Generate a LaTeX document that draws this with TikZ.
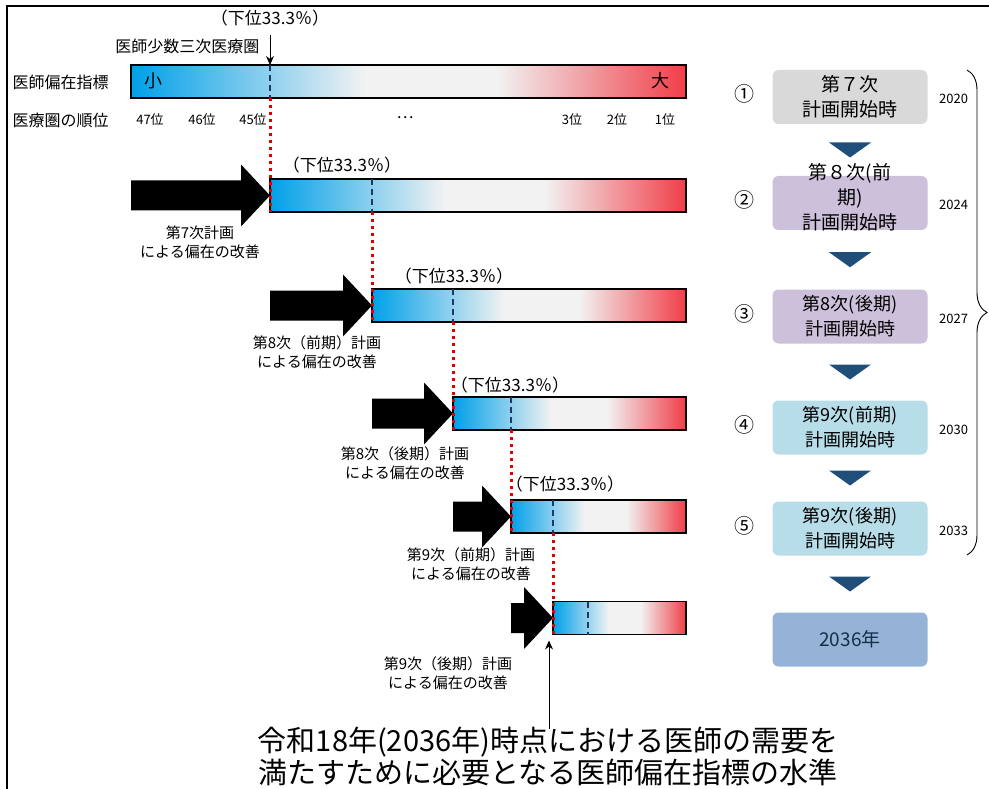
\documentclass[tikz,border=0pt]{standalone}
\usepackage{fontspec}
\setmainfont{Noto Sans CJK JP}
\usetikzlibrary{arrows.meta,calc,positioning,decorations.pathreplacing}

\definecolor{devblue}{RGB}{0,160,233}
\definecolor{devgray}{RGB}{242,242,242}
\definecolor{devred}{RGB}{240,62,72}
\definecolor{stgray}{RGB}{217,217,217}
\definecolor{stlav}{RGB}{204,192,218}
\definecolor{stcyan}{RGB}{183,221,232}
\definecolor{stblue}{RGB}{149,179,215}
\definecolor{stnavy}{RGB}{31,78,121}
\definecolor{mkline}{RGB}{31,56,100}
\definecolor{dotred}{RGB}{225,0,0}

\pgfdeclarehorizontalshading{devshade}{100bp}{color(0bp)=(devblue); color(25bp)=(devblue); color(46bp)=(devgray); color(58bp)=(devgray); color(75bp)=(devred); color(100bp)=(devred)}

% big black arrow from the left end of one bar to the left end of the next
\newcommand{\planarrow}[2]{%
  \fill ($(#1.west |- #2.west)+(0,-15)$) -- ($(#2.west)+(-29,-15)$) -- ($(#2.west)+(-29,-31)$)
    -- (#2.west) -- ($(#2.west)+(-29,31)$) -- ($(#2.west)+(-29,15)$) -- ($(#1.west |- #2.west)+(0,15)$) -- cycle;}

\begin{document}
\begin{tikzpicture}[x=1pt,y=-1pt,font=\fontsize{16}{19}\selectfont,>={Stealth[length=9pt,width=8pt]},
    bar/.style={draw, line width=1.8pt, shading=devshade, minimum height=33pt, inner sep=0pt, outer sep=0pt, anchor=west},
    pctline/.style={mkline, line width=1.8pt, dash pattern=on 6pt off 4pt},
    reddots/.style={dotred, line width=3pt, dash pattern=on 3pt off 4pt},
    pct/.style={font=\fontsize{17}{20}\selectfont},
    plan/.style={align=center, font=\fontsize{15}{19}\selectfont},
    stage/.style={rounded corners=6pt, minimum width=155pt, minimum height=54pt, inner sep=0pt, align=center, font=\fontsize{19}{25}\selectfont},
    num/.style={font=\fontsize{20}{22}\selectfont},
    year/.style={font=\fontsize{13}{15}\selectfont}]
\useasboundingbox (0,0) rectangle (989,789);
\draw[line width=2pt] (7,789) -- (7,6) -- (989,6);

% index scale
\node[anchor=west] (idx) at (9,82) {医師偏在指標};
\node[anchor=west] (rank) at (9,120) {医療圏の順位};
\node[bar, minimum width=555pt] (bar1) at (131,81.5) {};
\node[font=\fontsize{18}{20}\selectfont] (small) at (153,81) {小};
\node[font=\fontsize{18}{20}\selectfont] (large) at (660,81) {大};
\foreach \x/\t in {150/47位,202/46位,253/45位,572/3位,617/2位,665/1位}
  \node[font=\fontsize{13}{15}\selectfont] (r\x) at (\x,120) {\t};
\node (dots) at (405,118) {…};

% bars after each plan
\node[bar, minimum width=416pt] (bar2) at (270,195.5) {};
\node[bar, minimum width=314pt] (bar3) at (372,305.5) {};
\node[bar, minimum width=233pt] (bar4) at (453,413.5) {};
\node[bar, minimum width=175pt] (bar5) at (511,516.5) {};
\node[bar, minimum width=133pt] (bar6) at (553,618) {};
\coordinate (m6) at (588,618);

\node[pct] (pct1) at (270,18) {（下位33.3％）};
\node[anchor=east] (few) at (263,46) {医師少数三次医療圏};
\draw[->, line width=1pt] (bar2.west |- few.north) -- (bar2.west |- bar1.north);
\node[pct] (pct2) at (342,165) {（下位33.3％）};
\node[pct] (pct3) at (454,276) {（下位33.3％）};
\node[pct] (pct4) at (510,385) {（下位33.3％）};
\node[pct] (pct5) at (565,484) {（下位33.3％）};

\foreach \a/\b in {bar1/bar2,bar2/bar3,bar3/bar4,bar4/bar5,bar5/bar6}
  \draw[pctline] (\b.west |- \a.north) -- (\b.west |- \a.south);
\draw[pctline] (m6 |- bar6.north) -- (m6 |- bar6.south);

\planarrow{bar1}{bar2}
\planarrow{bar2}{bar3}
\planarrow{bar3}{bar4}
\planarrow{bar4}{bar5}
\planarrow{bar5}{bar6}

\foreach \a/\b in {bar1/bar2,bar2/bar3,bar3/bar4,bar4/bar5,bar5/bar6}
  \draw[reddots] (\b.west |- \a.south) -- (\b.south west);

\node[plan] (p2) at (200,242) {第7次計画\\による偏在の改善};
\node[plan] (p3) at (317,352) {第8次（前期）計画\\による偏在の改善};
\node[plan] (p4) at (405,463) {第8次（後期）計画\\による偏在の改善};
\node[plan] (p5) at (471,564) {第9次（前期）計画\\による偏在の改善};
\node[plan] (p6) at (448,673) {第9次（後期）計画\\による偏在の改善};

% target level
\node[font=\fontsize{29}{32}\selectfont, align=center, inner sep=0pt] (goal) at (548,756) {令和18年(2036年)時点における医師の需要を\\満たすために必要となる医師偏在指標の水準};
\draw[->, line width=1pt] ([xshift=-4pt,yshift=-94pt]bar6.south west) -- ([xshift=-4pt,yshift=-6pt]bar6.south west);

% plan periods
\node[stage, fill=stgray] (s1) at (850,97) {第７次\\計画開始時};
\node[stage, fill=stlav] (s2) at (850,203) {};
\node[stage, font=\fontsize{19}{25}\selectfont] (s2t) at (850,197) {第８次(前\\期)\\計画開始時};
\node[stage, fill=stlav, font=\fontsize{18}{25}\selectfont] (s3) at (850,316.5) {第8次(後期)\\計画開始時};
\node[stage, fill=stcyan, font=\fontsize{18}{25}\selectfont] (s4) at (850,427.5) {第9次(前期)\\計画開始時};
\node[stage, fill=stcyan, font=\fontsize{18}{25}\selectfont] (s5) at (850,528.5) {第9次(後期)\\計画開始時};
\node[stage, fill=stblue, text=stnavy!60!black] (s6) at (850,639.5) {2036年};

\foreach \a/\b in {s1/s2,s2/s3,s3/s4,s4/s5,s5/s6}
  \fill[stnavy] ($(\a.south)!0.5!(\b.north)+(-21,-7.5)$) -- ++(42,0) -- ++(-21,15) -- cycle;

\foreach \s/\n/\y in {s1/①/2020,s2/②/2024,s3/③/2027,s4/④/2030,s5/⑤/2033} {
  \node[num, left=14pt of \s, yshift=3pt] (n\y) {\n};
  \node[year, right=8pt of \s, yshift=-2pt] (y\y) {\y};
}

\draw[line width=0.9pt, decorate, decoration={brace, amplitude=20pt}] (967,70) -- (967,555);
\end{tikzpicture}
\end{document}
